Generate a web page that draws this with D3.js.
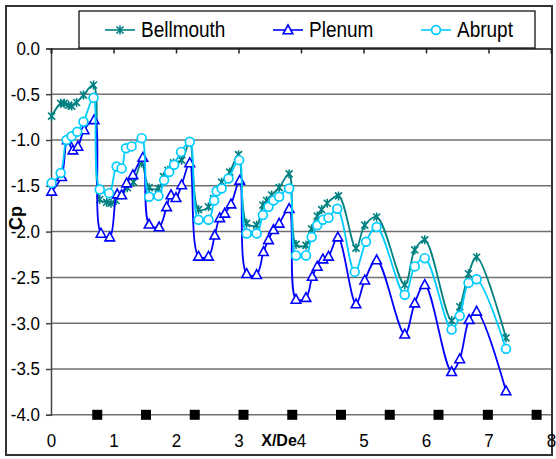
<!DOCTYPE html>
<html>
<head>
<meta charset="utf-8">
<script src="https://cdn.jsdelivr.net/npm/d3@7"></script>
<style>
  body { margin: 0; background: #fff; }
  svg { display: block; }
  text { font-family: "Liberation Sans", Arial, sans-serif; fill: #000; }
</style>
</head>
<body>
<svg id="chart" width="556" height="459"></svg>
<script>
// Wall pressure coefficient along the duct, three inlet configurations
const bellmouthX  = [0.01, 0.155, 0.21, 0.28, 0.33, 0.41, 0.52, 0.68,
                     0.78, 0.89, 0.96, 1.04, 1.13, 1.22, 1.32, 1.45,
                     1.57, 1.72, 1.80, 1.87, 1.96, 2.09, 2.22,
                     2.36, 2.52, 2.60, 2.73, 2.86, 3.00,
                     3.13, 3.29, 3.39, 3.45, 3.53, 3.65, 3.81,
                     3.92, 4.08, 4.17, 4.26, 4.33, 4.42, 4.60,
                     4.88, 5.02, 5.21, 5.66, 5.82, 5.98,
                     6.41, 6.54, 6.68, 6.81, 7.28];
const bellmouthCp = [-0.74, -0.60, -0.60, -0.62, -0.63, -0.59, -0.51, -0.40,
                     -1.65, -1.68, -1.69, -1.66, -1.60, -1.52, -1.46, -1.25,
                     -1.52, -1.53, -1.40, -1.33, -1.25, -1.22, -1.02,
                     -1.76, -1.73, -1.64, -1.46, -1.35, -1.16,
                     -1.91, -1.93, -1.71, -1.66, -1.60, -1.52, -1.37,
                     -2.14, -2.15, -1.97, -1.83, -1.76, -1.69, -1.61,
                     -2.18, -1.93, -1.84, -2.58, -2.20, -2.09,
                     -2.97, -2.82, -2.46, -2.28, -3.16];

const plenumX  = [0.01, 0.17, 0.26, 0.35, 0.43, 0.53, 0.69,
                  0.80, 0.94, 1.06, 1.13, 1.21, 1.31, 1.47,
                  1.57, 1.73, 1.85, 1.92, 2.00, 2.09, 2.22,
                  2.36, 2.52, 2.62, 2.70, 2.78, 2.88, 3.02,
                  3.13, 3.29, 3.40, 3.48, 3.56, 3.65, 3.81,
                  3.92, 4.08, 4.18, 4.26, 4.35, 4.44, 4.59,
                  4.88, 5.02, 5.21, 5.66, 5.82, 5.98,
                  6.41, 6.54, 6.69, 6.81, 7.28];
const plenumCp = [-1.56, -1.40, -1.00, -1.11, -1.07, -0.89, -0.78,
                  -2.02, -2.06, -1.59, -1.60, -1.47, -1.38, -1.19,
                  -1.92, -1.95, -1.73, -1.60, -1.63, -1.49, -1.25,
                  -2.27, -2.27, -2.04, -1.85, -1.80, -1.70, -1.44,
                  -2.46, -2.47, -2.22, -2.09, -1.98, -1.91, -1.75,
                  -2.74, -2.72, -2.49, -2.38, -2.30, -2.27, -2.06,
                  -2.79, -2.53, -2.31, -3.12, -2.78, -2.58,
                  -3.53, -3.39, -2.96, -2.87, -3.74];

const abruptX  = [0.01, 0.155, 0.25, 0.33, 0.42, 0.52, 0.68,
                  0.78, 0.93, 1.05, 1.13, 1.20, 1.29, 1.45,
                  1.57, 1.72, 1.81, 1.89, 1.97, 2.08, 2.22,
                  2.36, 2.52, 2.61, 2.65, 2.73, 2.84, 3.01,
                  3.13, 3.29, 3.39, 3.48, 3.56, 3.65, 3.81,
                  3.92, 4.08, 4.17, 4.26, 4.35, 4.44, 4.58,
                  4.86, 5.04, 5.21, 5.66, 5.82, 5.98,
                  6.41, 6.54, 6.68, 6.81, 7.28];
const abruptCp = [-1.47, -1.36, -1.00, -0.96, -0.91, -0.80, -0.54,
                  -1.54, -1.58, -1.29, -1.31, -1.09, -1.07, -0.98,
                  -1.62, -1.61, -1.44, -1.35, -1.27, -1.13, -1.02,
                  -1.87, -1.87, -1.66, -1.56, -1.53, -1.42, -1.22,
                  -2.02, -2.02, -1.82, -1.73, -1.66, -1.62, -1.53,
                  -2.26, -2.26, -2.06, -1.93, -1.87, -1.85, -1.75,
                  -2.44, -2.11, -1.95, -2.69, -2.38, -2.29,
                  -3.07, -2.92, -2.56, -2.52, -3.28];

// Bend locations marked along the bottom of the plot
const bendX = [0.74, 1.52, 2.30, 3.08, 3.86, 4.64, 5.42, 6.20, 6.99, 7.77];
const bendCp = -4.0;

const xTicks = [0, 1, 2, 3, 4, 5, 6, 7, 8];
const yTicks = [0, -0.5, -1.0, -1.5, -2.0, -2.5, -3.0, -3.5, -4.0];

const seriesNames  = ["Bellmouth", "Plenum", "Abrupt"];
const seriesColors = ["#008080", "#0000ff", "#00ccff"];

const svg = d3.select("#chart");
const x = d3.scaleLinear().domain([0, 8]).range([51, 551]);
const y = d3.scaleLinear().domain([0, -4]).range([48.4, 414.8]);

// outer frame
svg.append("rect").attr("x", 6).attr("y", 6).attr("width", 546).attr("height", 449)
  .attr("fill", "none").attr("stroke", "#333").attr("stroke-width", 2);

// horizontal gridlines
svg.append("g").selectAll("line").data(yTicks.filter(d => d !== 0)).join("line")
  .attr("x1", x(0)).attr("x2", x(8))
  .attr("y1", d => y(d)).attr("y2", d => y(d))
  .attr("stroke", "#707070").attr("stroke-width", 1.5);

// y axis
const yAxis = svg.append("g").attr("transform", `translate(${x(0)},0)`)
  .call(d3.axisLeft(y).tickValues(yTicks).tickSize(5).tickPadding(6)
    .tickFormat(d => d.toFixed(1)));
yAxis.select(".domain").attr("stroke", "#444").attr("stroke-width", 1.5);
yAxis.selectAll(".tick line").attr("stroke", "#444").attr("stroke-width", 1.5);
yAxis.selectAll("text").style("font-size", "17px")
  .attr("font-family", "Liberation Sans, Arial, sans-serif")
  .attr("transform", "scale(1,1.1)");

// x axis line at Cp = 0 with ticks only
const xAxisTop = svg.append("g").attr("transform", `translate(0,${y(0)})`)
  .call(d3.axisBottom(x).tickValues(xTicks).tickSize(5).tickFormat(""));
xAxisTop.select(".domain").attr("stroke", "#222").attr("stroke-width", 1.5);
xAxisTop.selectAll(".tick line").attr("stroke", "#222").attr("stroke-width", 1.5);

// x tick labels placed below the plot
const xAxisLow = svg.append("g").attr("transform", `translate(0,${y(-4)})`)
  .call(d3.axisBottom(x).tickValues(xTicks).tickSize(0).tickPadding(17)
    .tickFormat(d3.format("d")));
xAxisLow.select(".domain").remove();
xAxisLow.selectAll("text").style("font-size", "17px")
  .attr("font-family", "Liberation Sans, Arial, sans-serif")
  .attr("transform", "scale(1,1.1)");

// axis titles
svg.append("text").attr("x", 279).attr("y", 446).attr("text-anchor", "middle")
  .style("font-size", "16px").style("font-weight", "bold").text("X/De");
svg.append("text").attr("transform", "translate(22,218) rotate(-90)")
  .attr("text-anchor", "middle")
  .style("font-size", "18px").style("font-weight", "bold").text("Cp");

// series
const series = [
  { name: seriesNames[0], color: seriesColors[0], xs: bellmouthX, ys: bellmouthCp, marker: "star" },
  { name: seriesNames[1], color: seriesColors[1], xs: plenumX, ys: plenumCp, marker: "triangle" },
  { name: seriesNames[2], color: seriesColors[2], xs: abruptX, ys: abruptCp, marker: "circle" }
];

const line = d3.line().x(d => x(d[0])).y(d => y(d[1])).curve(d3.curveCatmullRom.alpha(0.5));

function drawMarker(g, type, color) {
  if (type === "star") {
    g.append("path").attr("d", "M-3.5,-3.5L3.5,3.5M-3.5,3.5L3.5,-3.5M0,-4.5L0,4.5")
      .attr("stroke", color).attr("stroke-width", 1.6).attr("fill", "none");
  } else if (type === "triangle") {
    g.append("path").attr("d", "M0,-5L4.8,3.8L-4.8,3.8Z")
      .attr("stroke", color).attr("stroke-width", 1.6).attr("fill", "#fff");
  } else {
    g.append("circle").attr("r", 4.4)
      .attr("stroke", color).attr("stroke-width", 1.7).attr("fill", "#fff");
  }
}

series.forEach(s => {
  const pts = s.xs.map((v, i) => [v, s.ys[i]]);
  svg.append("path").datum(pts).attr("d", line)
    .attr("fill", "none").attr("stroke", s.color).attr("stroke-width", 1.8);
  svg.append("g").selectAll("g").data(pts).join("g")
    .attr("transform", d => `translate(${x(d[0])},${y(d[1])})`)
    .each(function () { drawMarker(d3.select(this), s.marker, s.color); });
});

// bend markers
svg.append("g").selectAll("rect").data(bendX).join("rect")
  .attr("x", d => x(d) - 5).attr("y", y(bendCp) - 5)
  .attr("width", 10).attr("height", 10).attr("fill", "#000");

// legend
const legend = svg.append("g");
legend.append("rect").attr("x", 79).attr("y", 11).attr("width", 456).attr("height", 37)
  .attr("fill", "#fff").attr("stroke", "#000").attr("stroke-width", 1.2);
const legendPos = [105, 273, 421];
series.forEach((s, i) => {
  const lx = legendPos[i];
  const g = legend.append("g");
  g.append("line").attr("x1", lx).attr("x2", lx + 30).attr("y1", 30).attr("y2", 30)
    .attr("stroke", s.color).attr("stroke-width", 1.6);
  const m = g.append("g").attr("transform", `translate(${lx + 15},30)`);
  drawMarker(m, s.marker, s.color);
  g.append("text").attr("transform", `translate(${lx + 36},37) scale(1,1.2)`)
    .style("font-size", "19px").text(s.name);
});
</script>
</body>
</html>
